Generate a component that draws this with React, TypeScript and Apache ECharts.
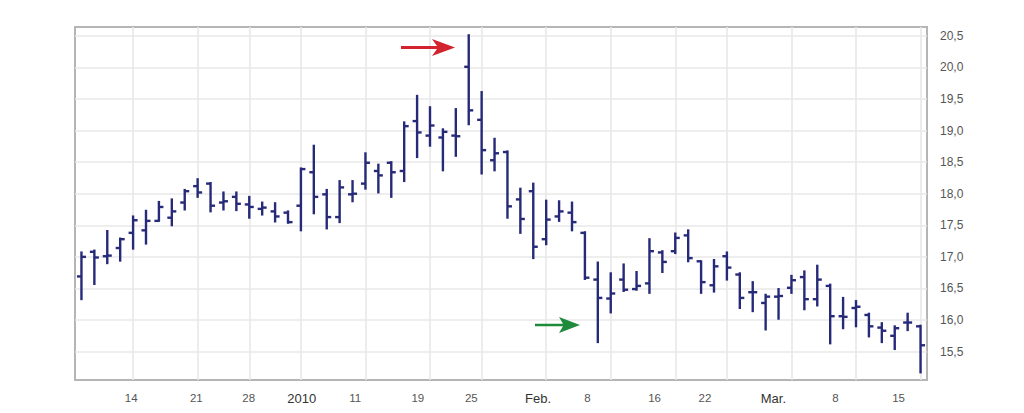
import React, { useEffect, useRef } from "react";
import * as echarts from "echarts";

// Trading days, Dec 8 2009 – Mar 15 2010
const dates = [
  "2009-12-08", "2009-12-09", "2009-12-10", "2009-12-11",
  "2009-12-14", "2009-12-15", "2009-12-16", "2009-12-17", "2009-12-18",
  "2009-12-21", "2009-12-22", "2009-12-23", "2009-12-24",
  "2009-12-28", "2009-12-29", "2009-12-30", "2009-12-31",
  "2010-01-04", "2010-01-05", "2010-01-06", "2010-01-07", "2010-01-08",
  "2010-01-11", "2010-01-12", "2010-01-13", "2010-01-14", "2010-01-15",
  "2010-01-19", "2010-01-20", "2010-01-21", "2010-01-22",
  "2010-01-25", "2010-01-26", "2010-01-27", "2010-01-28", "2010-01-29",
  "2010-02-01", "2010-02-02", "2010-02-03", "2010-02-04", "2010-02-05",
  "2010-02-08", "2010-02-09", "2010-02-10", "2010-02-11", "2010-02-12",
  "2010-02-16", "2010-02-17", "2010-02-18", "2010-02-19",
  "2010-02-22", "2010-02-23", "2010-02-24", "2010-02-25", "2010-02-26",
  "2010-03-01", "2010-03-02", "2010-03-03", "2010-03-04", "2010-03-05",
  "2010-03-08", "2010-03-09", "2010-03-10", "2010-03-11", "2010-03-12",
  "2010-03-15",
];

const openV = [
  16.69, 17.08, 17.01, 17.14, 17.38, 17.42, 17.57, 17.62, 17.86, 18.12,
  18.16, 17.86, 17.95, 17.83, 17.76, 17.72, 17.70, 17.81, 18.34, 17.99,
  17.63, 17.99, 18.16, 18.36, 18.49, 18.36, 19.15, 18.92, 18.89, 18.92,
  20.01, 19.17, 18.53, 18.66, 17.91, 18.04, 17.28, 17.64, 17.70, 17.38,
  16.64, 16.34, 16.64, 16.49, 16.58, 17.07, 17.09, 17.34, 16.93, 16.55,
  17.01, 16.72, 16.44, 16.27, 16.37, 16.51, 16.68, 16.33, 16.54, 16.06,
  16.19, 16.08, 15.88, 15.75, 15.96, 15.90,
];
const highV = [
  17.07, 17.10, 17.41, 17.29, 17.64, 17.73, 17.87, 17.91, 18.06, 18.23,
  18.17, 18.02, 18.02, 17.95, 17.86, 17.85, 17.72, 18.40, 18.76, 18.06,
  18.20, 18.20, 18.64, 18.46, 18.50, 19.13, 19.55, 19.37, 19.02, 19.34,
  20.51, 19.61, 18.87, 18.67, 18.08, 18.16, 17.89, 17.88, 17.86, 17.39,
  16.91, 16.74, 16.88, 16.76, 17.28, 17.09, 17.37, 17.42, 16.93, 16.95,
  17.07, 16.74, 16.60, 16.40, 16.49, 16.70, 16.77, 16.86, 16.56, 16.35,
  16.30, 16.10, 15.95, 15.90, 16.10, 15.91,
];
const lowV = [
  16.33, 16.57, 16.90, 16.94, 17.13, 17.21, 17.57, 17.50, 17.75, 17.95,
  17.72, 17.75, 17.74, 17.62, 17.67, 17.56, 17.54, 17.42, 17.69, 17.45,
  17.55, 17.88, 18.08, 18.02, 17.95, 18.20, 18.58, 18.76, 18.37, 18.60,
  19.10, 18.32, 18.37, 17.62, 17.38, 16.98, 17.20, 17.57, 17.42, 16.65,
  15.65, 16.12, 16.46, 16.48, 16.43, 16.76, 17.06, 16.93, 16.43, 16.45,
  16.64, 16.19, 16.14, 15.85, 16.02, 16.43, 16.17, 16.23, 15.63, 15.87,
  15.90, 15.74, 15.65, 15.54, 15.84, 15.17,
];
const closeV = [
  17.00, 16.99, 17.02, 17.28, 17.58, 17.57, 17.79, 17.72, 18.04, 18.02,
  17.81, 17.88, 17.84, 17.79, 17.78, 17.64, 17.55, 18.39, 17.95, 17.63,
  18.10, 18.00, 18.49, 18.29, 18.34, 19.07, 18.97, 19.08, 18.98, 18.91,
  19.32, 18.69, 18.64, 17.80, 17.60, 17.16, 17.59, 17.72, 17.55, 16.67,
  16.35, 16.42, 16.48, 16.54, 17.09, 16.92, 17.30, 16.98, 16.60, 16.85,
  16.83, 16.35, 16.44, 16.37, 16.38, 16.63, 16.33, 16.64, 16.06, 16.05,
  16.21, 15.90, 15.83, 15.87, 15.96, 15.60,
];

const yTicks = [15.5, 16, 16.5, 17, 17.5, 18, 18.5, 19, 19.5, 20, 20.5];
const xLabelText = ["14", "21", "28", "2010", "11", "19", "25", "Feb.", "8", "16", "22", "Mar.", "8", "15"];
const xLabelPos = [3.85, 8.9, 12.95, 17.06, 21.2, 26.06, 30.2, 35.37, 39.2, 44.4, 48.3, 53.6, 58.4, 63.3];
const bigLabels = ["2010", "Feb.", "Mar."];

const BAR_COLOR = "#262a78";

// first trading day of each week -> vertical grid lines
function weekStarts(): number[] {
  const out: number[] = [];
  for (let i = 1; i < dates.length; i++) {
    const a = new Date(dates[i - 1] + "T00:00:00Z").getUTCDay();
    const b = new Date(dates[i] + "T00:00:00Z").getUTCDay();
    if (b < a) out.push(i);
  }
  return out;
}

export default function App() {
  const ref = useRef<HTMLDivElement>(null);
  useEffect(() => {
    if (!ref.current) return;
    const chart = echarts.init(ref.current, undefined, { renderer: "svg" });
    const data = dates.map((d, i) => [i, openV[i], highV[i], lowV[i], closeV[i]]);
    const gridIdx = weekStarts();
    const font = "'Liberation Sans', Arial, Helvetica, sans-serif";
    chart.setOption({
      animation: false,
      backgroundColor: "#ffffff",
      grid: {
        left: 75,
        right: 97,
        top: 27,
        bottom: 33,
        show: true,
        borderColor: "#b5b5b5",
        borderWidth: 2,
        backgroundColor: "#ffffff",
      },
      xAxis: {
        type: "value",
        min: -0.5,
        max: dates.length - 0.5,
        axisLine: { show: false },
        axisTick: { show: false, customValues: gridIdx },
        splitLine: { show: true, lineStyle: { color: "#e8e8e8", width: 1.6 } },
        axisLabel: {
          customValues: xLabelPos,
          margin: 12,
          fontFamily: font,
          formatter: (v: number) => {
            let k = 0;
            let best = Infinity;
            xLabelPos.forEach((p, i) => {
              const d = Math.abs(p - v);
              if (d < best) { best = d; k = i; }
            });
            const t = xLabelText[k];
            return bigLabels.includes(t) ? `{m|${t}}` : `{d|${t}}`;
          },
          rich: {
            m: { fontSize: 13, color: "#333333", fontFamily: font },
            d: { fontSize: 11.5, color: "#555555", fontFamily: font },
          },
        },
      },
      yAxis: {
        type: "value",
        position: "right",
        min: 15.05,
        max: 20.64,
        axisLine: { show: false },
        axisTick: { show: false, customValues: yTicks },
        splitLine: { show: true, lineStyle: { color: "#e8e8e8", width: 1.6 } },
        axisLabel: {
          customValues: yTicks,
          margin: 13,
          fontSize: 12,
          color: "#555555",
          fontFamily: font,
          formatter: (v: number) => v.toFixed(1).replace(".", ","),
        },
      },
      series: [
        {
          type: "custom",
          name: "OHLC",
          data,
          encode: { x: 0, y: [1, 2, 3, 4] },
          renderItem: (params: any, api: any) => {
            const x = api.value(0);
            const o = api.coord([x, api.value(1)]);
            const h = api.coord([x, api.value(2)]);
            const l = api.coord([x, api.value(3)]);
            const c = api.coord([x, api.value(4)]);
            const t = 4.5;
            const style = { stroke: BAR_COLOR, lineWidth: 2.4 };
            return {
              type: "group",
              children: [
                { type: "line", shape: { x1: h[0], y1: h[1] - 1, x2: l[0], y2: l[1] + 1 }, style },
                { type: "line", shape: { x1: o[0] - t, y1: o[1], x2: o[0], y2: o[1] }, style },
                { type: "line", shape: { x1: c[0], y1: c[1], x2: c[0] + t, y2: c[1] }, style },
              ],
            };
          },
        },
      ],
      graphic: [
        {
          type: "polygon",
          z: 100,
          shape: {
            points: [[401, 46], [437, 46], [432, 39], [455, 47.5], [432, 56], [437, 49], [401, 49]],
          },
          style: { fill: "#d2232f" },
        },
        {
          type: "polygon",
          z: 100,
          shape: {
            points: [[535, 323.7], [563, 323.7], [559, 317], [580, 325], [559, 333], [563, 326.3], [535, 326.3]],
          },
          style: { fill: "#1f8a3b" },
        },
      ],
    });
    return () => chart.dispose();
  }, []);
  return (
    <div
      ref={ref}
      style={{ position: "fixed", left: 0, top: 0, width: 1024, height: 413, background: "#fff" }}
    />
  );
}
